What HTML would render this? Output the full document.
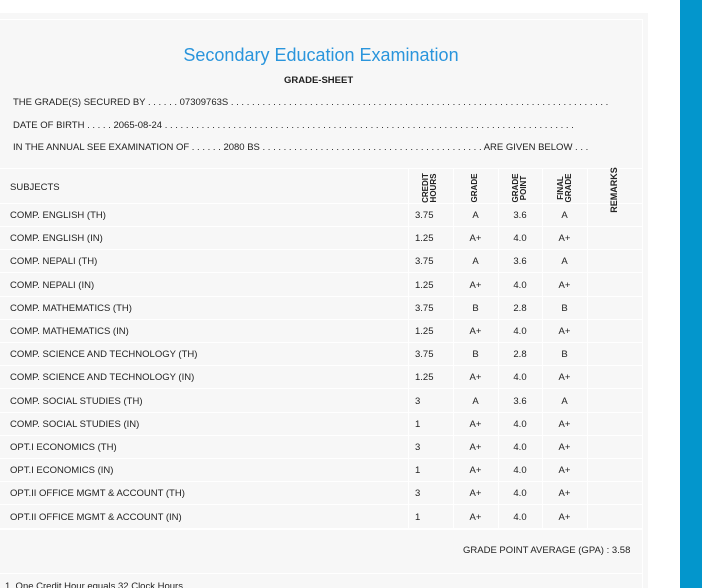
<!DOCTYPE html>
<html style="height:588px;overflow:hidden"><head><style>
body{margin:0;width:702px;height:588px;background:#fff;overflow:hidden;position:relative;font-family:"Liberation Sans",sans-serif;color:#222}
.panel{position:absolute;left:0;top:13px;width:648px;height:575px;background:#f7f7f7}
.inner{position:absolute;left:0;top:6px;width:642px;height:569px;border-right:1px solid #fff;border-top:1px solid #fff}
.blue{position:absolute;left:680px;top:0;width:22px;height:588px;background:#0396cc}
.t{position:absolute;font-size:9.5px;white-space:nowrap}
h1{position:absolute;left:0;width:642px;top:45px;margin:0;text-align:center;font-weight:normal;font-size:18px;color:#2a95dc}
.hl{position:absolute;left:0;width:642px;height:1px;background:#fff}
.vl{position:absolute;width:1px;background:#fff;top:169px;height:360px}
.c{position:absolute;font-size:9.5px;text-align:center}
.rot{position:absolute;font-size:8px;font-weight:bold;transform:rotate(-90deg);transform-origin:center;text-align:center;line-height:8px;white-space:nowrap}
</style></head><body>
<div class="panel"><div class="inner"></div></div>
<div class="blue"></div>
<h1>Secondary Education Examination</h1>
<div class="t" style="left:284px;top:75px;font-weight:bold;">GRADE-SHEET</div>
<div class="t" style="left:13px;top:97px">THE GRADE(S) SECURED BY . . . . . . 07309763S . . . . . . . . . . . . . . . . . . . . . . . . . . . . . . . . . . . . . . . . . . . . . . . . . . . . . . . . . . . . . . . . . . . . . . . .</div>
<div class="t" style="left:13px;top:120px">DATE OF BIRTH . . . . . 2065-08-24 . . . . . . . . . . . . . . . . . . . . . . . . . . . . . . . . . . . . . . . . . . . . . . . . . . . . . . . . . . . . . . . . . . . . . . . . . . . . . .</div>
<div class="t" style="left:13px;top:142px">IN THE ANNUAL SEE EXAMINATION OF . . . . . . 2080 BS . . . . . . . . . . . . . . . . . . . . . . . . . . . . . . . . . . . . . . . . . . ARE GIVEN BELOW . . .</div>
<div class="hl" style="top:168px"></div>
<div class="hl" style="top:203px"></div>
<div class="t" style="left:10px;top:182px">SUBJECTS</div>
<div class="rot" style="left:405px;top:180px;width:50px">CREDIT<br>HOURS</div>
<div class="rot" style="left:452px;top:184px;width:46px">GRADE</div>
<div class="rot" style="left:490px;top:180px;width:60px">GRADE<br>POINT</div>
<div class="rot" style="left:535px;top:180px;width:60px">FINAL<br>GRADE</div>
<div class="rot" style="left:584px;top:186px;width:60px;font-size:9px">REMARKS</div>
<div class="vl" style="left:408px"></div><div class="vl" style="left:453px"></div><div class="vl" style="left:498px"></div><div class="vl" style="left:542px"></div><div class="vl" style="left:587px"></div>
<div id="rows"></div>
<div class="hl" style="top:529px"></div>
<div class="t" style="left:463px;top:545px">GRADE POINT AVERAGE (GPA) : 3.58</div>
<div class="hl" style="top:573px"></div>
<div class="t" style="left:5px;top:581px">1. One Credit Hour equals 32 Clock Hours</div>
<script>
var d=[["COMP. ENGLISH (TH)","3.75","A","3.6","A"],["COMP. ENGLISH (IN)","1.25","A+","4.0","A+"],["COMP. NEPALI (TH)","3.75","A","3.6","A"],["COMP. NEPALI (IN)","1.25","A+","4.0","A+"],["COMP. MATHEMATICS (TH)","3.75","B","2.8","B"],["COMP. MATHEMATICS (IN)","1.25","A+","4.0","A+"],["COMP. SCIENCE AND TECHNOLOGY (TH)","3.75","B","2.8","B"],["COMP. SCIENCE AND TECHNOLOGY (IN)","1.25","A+","4.0","A+"],["COMP. SOCIAL STUDIES (TH)","3","A","3.6","A"],["COMP. SOCIAL STUDIES (IN)","1","A+","4.0","A+"],["OPT.I ECONOMICS (TH)","3","A+","4.0","A+"],["OPT.I ECONOMICS (IN)","1","A+","4.0","A+"],["OPT.II OFFICE MGMT &amp; ACCOUNT (TH)","3","A+","4.0","A+"],["OPT.II OFFICE MGMT &amp; ACCOUNT (IN)","1","A+","4.0","A+"]];
var h="";
d.forEach(function(r,i){var y=203+i*23.2;
h+='<div class="hl" style="top:'+Math.round(y+23)+'px"></div>';
h+='<div class="t" style="left:10px;top:'+(y+7)+'px">'+r[0]+'</div>';
h+='<div class="t" style="left:415px;top:'+(y+7)+'px">'+r[1]+'</div>';
h+='<div class="c" style="left:453px;width:45px;top:'+(y+7)+'px">'+r[2]+'</div>';
h+='<div class="c" style="left:498px;width:44px;top:'+(y+7)+'px">'+r[3]+'</div>';
h+='<div class="c" style="left:542px;width:45px;top:'+(y+7)+'px">'+r[4]+'</div>';});
document.getElementById("rows").innerHTML=h;
</script>
</body></html>
